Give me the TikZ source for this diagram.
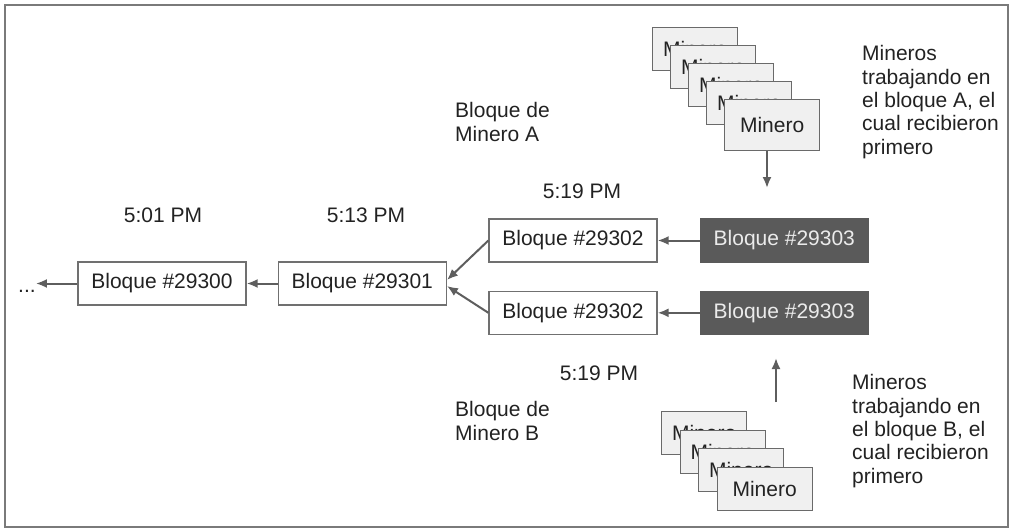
\documentclass[tikz,border=0pt]{standalone}
\usepackage{fontspec}
\setmainfont{Liberation Sans}
\usetikzlibrary{positioning,arrows.meta}

\definecolor{framegray}{HTML}{7A7A7A}
\definecolor{boxgray}{HTML}{707070}
\definecolor{arrowgray}{HTML}{5E5E5E}
\definecolor{blockdark}{HTML}{5A5A5A}
\definecolor{blocktext}{HTML}{EBEBEB}
\definecolor{stackgray}{HTML}{6A6A6A}
\definecolor{stackfill}{HTML}{F0F0F0}
\definecolor{textblack}{HTML}{222222}

\tikzset{
  every node/.style={font=\fontsize{21}{23.4}\selectfont, text=textblack},
  blk/.style={draw=boxgray, line width=1.3pt, fill=white, minimum width=168pt, minimum height=43pt, inner sep=0pt},
  blkdark/.style={blk, draw=blockdark, fill=blockdark, text=blocktext},
  mnr/.style={draw=stackgray, line width=1.2pt, fill=stackfill, minimum width=85pt, minimum height=43pt, inner sep=0pt, anchor=north west},
  lbl/.style={align=left, inner sep=0pt, anchor=west},
  arr/.style={draw=arrowgray, line width=2pt, -{Latex[length=11pt,width=9pt]}},
}

\begin{document}
\begin{tikzpicture}[x=1pt,y=-1pt]
    \useasboundingbox (0,0) rectangle (1013,530);
    \draw[framegray, line width=2pt] (5,5) rectangle (1008,527);
    % Nodes
    \node[blk] (b0) at (162,283.5) {Bloque \#29300} ; %
    \node[blk, right=31pt of b0] (b1) {Bloque \#29301} ; %
    \node[blk] (b2a) at (573,240.5) {Bloque \#29302} ; %
    \node[blk, below=28pt of b2a] (b2b) {Bloque \#29302} ; %
    \node[blkdark, right=42pt of b2a] (b3a) {Bloque \#29303} ; %
    \node[blkdark, right=42pt of b2b] (b3b) {Bloque \#29303} ; %
    \node[inner sep=0pt, anchor=base west] (dots) at (18,292) {...} ; %
    % Times
    \node (t0) at (163,215) {5:01 PM} ; %
    \node (t1) at (366,215) {5:13 PM} ; %
    \node (t2a) at (582,191) {5:19 PM} ; %
    \node (t2b) at (599,373) {5:19 PM} ; %
    % Labels
    \node[lbl] (la) at (455,122) {Bloque de\\Minero A} ; %
    \node[lbl] (lb) at (455,421) {Bloque de\\Minero B} ; %
    \node[lbl] (ra) at (862,102) {Mineros\\trabajando en\\el bloque A, el\\cual recibieron\\primero} ; %
    \node[lbl] (rb) at (852,431) {Mineros\\trabajando en\\el bloque B, el\\cual recibieron\\primero} ; %
    % Miners working on A
    \node[mnr] (ma1) at (652,27) {Minero} ; %
    \node[mnr] (ma2) at ([shift={(18,18)}]ma1.north west) {Minero} ; %
    \node[mnr] (ma3) at ([shift={(18,18)}]ma2.north west) {Minero} ; %
    \node[mnr] (ma4) at ([shift={(18,18)}]ma3.north west) {Minero} ; %
    \node[mnr, minimum width=95pt, minimum height=51pt] (ma5) at ([shift={(18,18)}]ma4.north west) {Minero} ; %
    % Miners working on B
    \node[mnr] (mb1) at (661,411) {Minero} ; %
    \node[mnr] (mb2) at ([shift={(18.5,18.5)}]mb1.north west) {Minero} ; %
    \node[mnr] (mb3) at ([shift={(18.5,18.5)}]mb2.north west) {Minero} ; %
    \node[mnr, minimum width=95pt] (mb4) at ([shift={(18.5,18.5)}]mb3.north west) {Minero} ; %
    \coordinate (ta) at (767,188) ; %
    \coordinate (fb) at (776,402) ; %
    \coordinate (tb) at (776,358) ; %
    % Edges
    \draw[arr] (b0.west) -- (dots.east |- b0.west) ; %
    \draw[arr] (b1) -- (b0) ; %
    \draw[arr] (b2a.west) -- ([yshift=3.5pt]b1.east) ; %
    \draw[arr] (b2b.west) -- ([yshift=-2.5pt]b1.east) ; %
    \draw[arr] (b3a) -- (b2a) ; %
    \draw[arr] (b3b) -- (b2b) ; %
    \draw[arr] (ma5.south -| ta) -- (ta) ; %
    \draw[arr] (fb) -- (tb) ; %
\end{tikzpicture}
\end{document}
